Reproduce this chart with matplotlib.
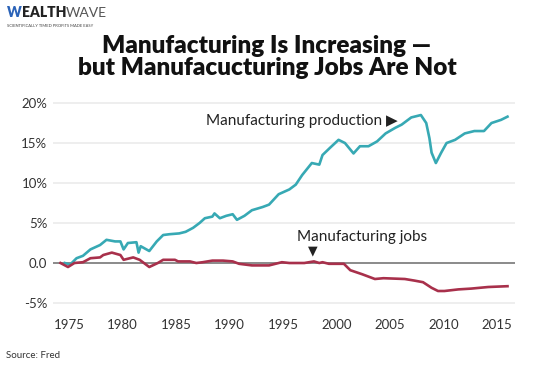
import matplotlib.pyplot as plt

plt.rcParams['font.family'] = ['Lato', 'DejaVu Sans']

# manufacturing production, % change
prod_year = [1974.6, 1975.1, 1975.7, 1976.3, 1977.0, 1977.9, 1978.5, 1979.3, 1979.8, 1980.1,
             1980.5, 1981.3, 1981.5, 1981.7, 1982.5, 1983.2, 1983.8, 1984.4, 1985.3, 1985.9,
             1986.6, 1987.2, 1987.7, 1988.4, 1988.6, 1989.1, 1989.7, 1990.3, 1990.7, 1991.4,
             1992.1, 1993.1, 1993.7, 1994.6, 1995.6, 1996.2, 1996.8, 1997.7, 1998.4, 1998.7,
             1999.4, 2000.2, 2000.8, 2001.6, 2002.2, 2003.0, 2003.8, 2004.6, 2005.5, 2006.1,
             2007.0, 2007.9, 2008.4, 2008.7, 2008.9, 2009.3, 2009.8, 2010.3, 2011.1, 2012.0,
             2012.9, 2013.8, 2014.5, 2015.4, 2016.0]
prod_val = [0.0, -0.2, 0.6, 0.9, 1.7, 2.25, 2.9, 2.7, 2.7, 1.7,
            2.5, 2.6, 1.3, 2.1, 1.5, 2.7, 3.5, 3.6, 3.7, 3.9,
            4.4, 5.0, 5.6, 5.8, 6.2, 5.6, 5.9, 6.1, 5.4, 5.9,
            6.6, 7.0, 7.3, 8.6, 9.2, 9.8, 11.0, 12.5, 12.3, 13.5,
            14.4, 15.4, 15.0, 13.7, 14.6, 14.6, 15.2, 16.2, 16.9, 17.3,
            18.2, 18.5, 17.5, 15.6, 13.8, 12.5, 13.8, 15.0, 15.4, 16.2,
            16.5, 16.5, 17.5, 17.9, 18.3]

# manufacturing jobs, % change
jobs_year = [1974.2, 1974.9, 1975.5, 1976.3, 1977.0, 1977.9, 1978.2, 1979.0, 1979.8, 1980.1,
             1981.0, 1981.6, 1982.5, 1983.3, 1983.8, 1984.9, 1985.2, 1986.3, 1986.9, 1987.5,
             1988.4, 1989.4, 1990.3, 1990.9, 1992.1, 1993.7, 1994.9, 1995.6, 1997.0, 1997.9,
             1998.4, 1998.7, 1999.3, 2000.7, 2001.3, 2002.4, 2003.6, 2004.4, 2006.4, 2007.3,
             2008.1, 2008.9, 2009.5, 2010.1, 2011.4, 2012.6, 2014.2, 2016.0]
jobs_val = [0.0, -0.5, 0.0, 0.1, 0.6, 0.7, 1.0, 1.3, 1.0, 0.4,
            0.7, 0.4, -0.5, 0.0, 0.4, 0.4, 0.2, 0.2, 0.0, 0.1,
            0.3, 0.3, 0.2, -0.1, -0.3, -0.3, 0.1, 0.0, 0.0, 0.2,
            0.0, 0.1, -0.1, -0.1, -0.9, -1.4, -2.0, -1.9, -2.0, -2.2,
            -2.4, -3.1, -3.5, -3.5, -3.3, -3.2, -3.0, -2.9]

yticks = [-5, 0, 5, 10, 15, 20]
ylabels = ["-5%", "0.0", "5%", "10%", "15%", "20%"]
xticks = list(range(1975, 2016, 5))

teal = "#37a9b4"
crimson = "#a8304b"
dark = "#333333"

fig = plt.figure(figsize=(5.34, 3.67), dpi=100)
ax = fig.add_axes([0.0993, 0.1526, 0.8651, 0.5884])

for y in yticks:
    if y != 0:
        ax.axhline(y, color="#ebebeb", lw=1.2, zorder=0)
ax.axhline(0, color="#777777", lw=1.2, zorder=1)

ax.plot(prod_year, prod_val, color=teal, lw=1.9, zorder=3)
ax.plot(jobs_year, jobs_val, color=crimson, lw=1.9, zorder=3)

ax.set_xlim(1973.5, 2016.7)
ax.set_ylim(-6, 21)
ax.set_yticks(yticks)
ax.set_yticklabels(ylabels)
ax.set_xticks(xticks)
for s in ax.spines.values():
    s.set_visible(False)
ax.tick_params(length=0, labelsize=9.5, colors=dark, pad=6)
ax.tick_params(axis="y", pad=4)

ax.text(2005.7, 17.75, "Manufacturing production \u25B6", fontsize=11, color="#222222",
        ha="right", va="center")
ax.text(1996.3, 3.25, "Manufacturing jobs", fontsize=11, color="#222222", ha="left", va="center")
ax.text(1997.8, 1.5, "\u25BC", fontsize=9, color="#222222", ha="center", va="center",
        family="DejaVu Sans")

fig.text(0.5, 0.845, "Manufacturing Is Increasing \u2014\nbut Manufacucturing Jobs Are Not",
         ha="center", va="center", fontsize=17.5, fontweight="heavy", color="#111111",
         linespacing=1.02)

# logo: chain the pieces so they sit side by side
w = fig.text(0.013, 0.955, "W", fontsize=10, fontweight="heavy", color="#2b63b8", va="baseline")
e = ax.annotate("EALTH", xy=(1, 0), xycoords=w, fontsize=10, fontweight="heavy",
                color="#222222", va="bottom", annotation_clip=False)
ax.annotate("WAVE", xy=(1, 0), xycoords=e, fontsize=10, color="#555555", va="bottom",
            annotation_clip=False)
fig.text(0.013, 0.93, "SCIENTIFICALLY TIMED PROFITS MADE EASY", fontsize=3, color="#444444",
         va="center")

fig.text(0.012, 0.032, "Source: Fred", fontsize=7, color=dark, va="center")

fig.savefig("out.png", dpi=100)
